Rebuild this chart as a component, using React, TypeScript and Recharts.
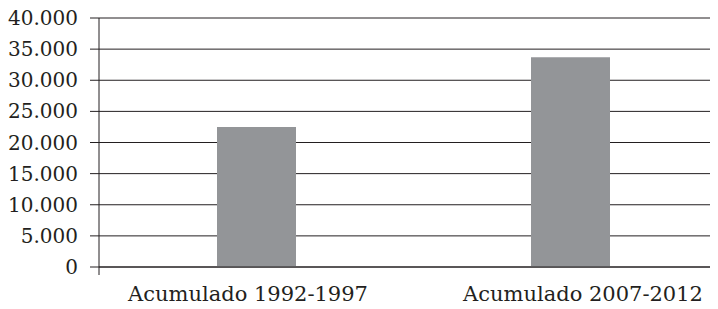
import React from "react";
import { BarChart, Bar, XAxis, YAxis, CartesianGrid } from "recharts";

const categories = ["Acumulado 1992-1997", "Acumulado 2007-2012"];
const values = [22500, 33700];
const yTicks = [0, 5000, 10000, 15000, 20000, 25000, 30000, 35000, 40000];
const edgeTicks = [0, 1, 2];

const data = categories.map((name, i) => ({ name, value: values[i] }));

const INK = "#231f20";
const fmt = (v: number) => String(v).replace(/\B(?=(\d{3})+(?!\d))/g, ".");

const labelShift = [-8, 13];

function CatTick(props: any) {
  const { x, y, payload, index } = props;
  return (
    <text
      x={x + (labelShift[index] ?? 0)}
      y={y}
      dy="0.71em"
      textAnchor="middle"
      fill={INK}
      fontFamily="DejaVu Serif"
      fontSize={21}
    >
      {payload.value}
    </text>
  );
}

const EmptyTick = () => <g />;

export default function App() {
  return (
    <div style={{ width: 710, overflow: "hidden", marginTop: -8 }}>
      <BarChart
        width={719}
        height={309}
        data={data}
        margin={{ top: 18, right: 0, bottom: 4, left: 0 }}
      >
        <CartesianGrid vertical={false} stroke={INK} strokeWidth={1} xAxisId="b" />
        <XAxis
          xAxisId="a"
          type="number"
          scale="linear"
          domain={[0, 2]}
          ticks={edgeTicks}
          allowDataOverflow
          tick={<EmptyTick />}
          tickSize={8}
          tickMargin={0}
          height={8}
          stroke={INK}
          axisLine={{ stroke: INK }}
          tickLine={{ stroke: INK }}
        />
        <XAxis
          xAxisId="b"
          dataKey="name"
          axisLine={false}
          tickLine={false}
          tickSize={0}
          tickMargin={11}
          height={30}
          interval={0}
          tick={<CatTick />}
        />
        <YAxis
          domain={[0, 40000]}
          ticks={yTicks}
          width={91}
          tickSize={9}
          tickMargin={12}
          interval={0}
          tickFormatter={fmt}
          axisLine={{ stroke: INK }}
          tickLine={{ stroke: INK }}
          tick={{ fill: INK, fontFamily: "DejaVu Serif", fontSize: 20 }}
        />
        <Bar
          xAxisId="b"
          dataKey="value"
          fill="#939598"
          barSize={79}
          isAnimationActive={false}
        />
      </BarChart>
    </div>
  );
}
